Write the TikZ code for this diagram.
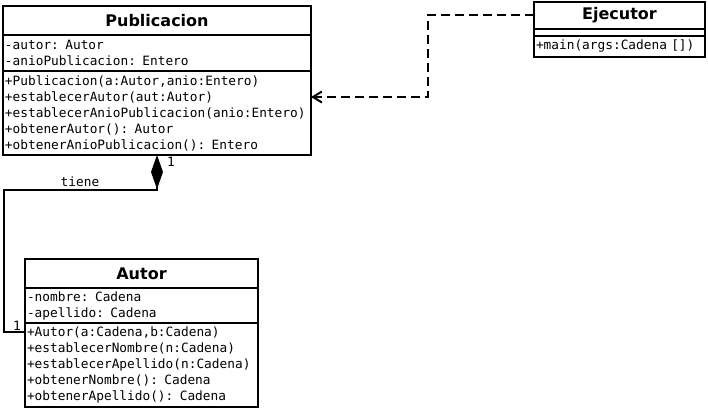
\documentclass[tikz,border=0pt]{standalone}
\usepackage{fontspec}
\setmainfont{DejaVu Sans}
\setmonofont{DejaVu Sans Mono}
\usetikzlibrary{arrows.meta}
\begin{document}
\begin{tikzpicture}[x=1pt,y=-1pt,
  cls/.style={draw=black,line width=2pt,anchor=north west,inner sep=2pt,outer sep=0pt},
  head/.style={cls,font=\bfseries\fontsize{16}{19}\selectfont,align=center},
  memb/.style={cls,text width=#1,font=\ttfamily\fontsize{12.8}{16}\selectfont,align=left},
  lbl/.style={font=\ttfamily\fontsize{12.8}{16}\selectfont,inner sep=0pt}]
\useasboundingbox (0,0) rectangle (708,409);
\node[head,minimum width=308pt,minimum height=29pt] (pt) at (3,6) {Publicacion};
\node[memb=304pt,minimum height=36pt] (pa) at (3,35) {-autor: Autor\\-anioPublicacion: Entero};
\node[memb=304pt,minimum height=84pt] (pm) at (3,71) {+Publicacion(a:Autor,anio:Entero)\\+establecerAutor(aut:Autor)\\+establecerAnioPublicacion(anio:Entero)\\+obtenerAutor(): Autor\\+obtenerAnioPublicacion(): Entero};
\node[head,minimum width=171pt,minimum height=27pt] (et) at (534,2) {Ejecutor};
\node[cls,minimum width=171pt,minimum height=7pt] (ea) at (534,29) {};
\node[memb=167pt,minimum height=21pt] (em) at (534,36) {+main(args:Cadena [])};
\node[head,minimum width=233pt,minimum height=29pt] (at) at (25,259) {Autor};
\node[memb=229pt,minimum height=35pt] (aa) at (25,288) {-nombre: Cadena\\-apellido: Cadena};
\node[memb=229pt,minimum height=84pt] (am) at (25,323) {+Autor(a:Cadena,b:Cadena)\\+establecerNombre(n:Cadena)\\+establecerApellido(n:Cadena)\\+obtenerNombre(): Cadena\\+obtenerApellido(): Cadena};
\coordinate (k1) at (4,190);
\coordinate (k2) at (4,332);
\coordinate (d2) at (428,97);
\draw[line width=2pt,{Diamond[length=34pt,width=12pt]}-] (pm.south) |- (k1) -- (k2) -- (k2 -| am.west);
\draw[line width=2pt,dash pattern=on 9pt off 5pt,-{Straight Barb[length=9pt,width=11pt]}] (et.west) -| (d2) -- (d2 -| pm.east);
\node[lbl] (t) at (80,182) {tiene};
\node[lbl] (n1) at (171,162) {1};
\node[lbl] (n2) at (17,326) {1};
\end{tikzpicture}
\end{document}
